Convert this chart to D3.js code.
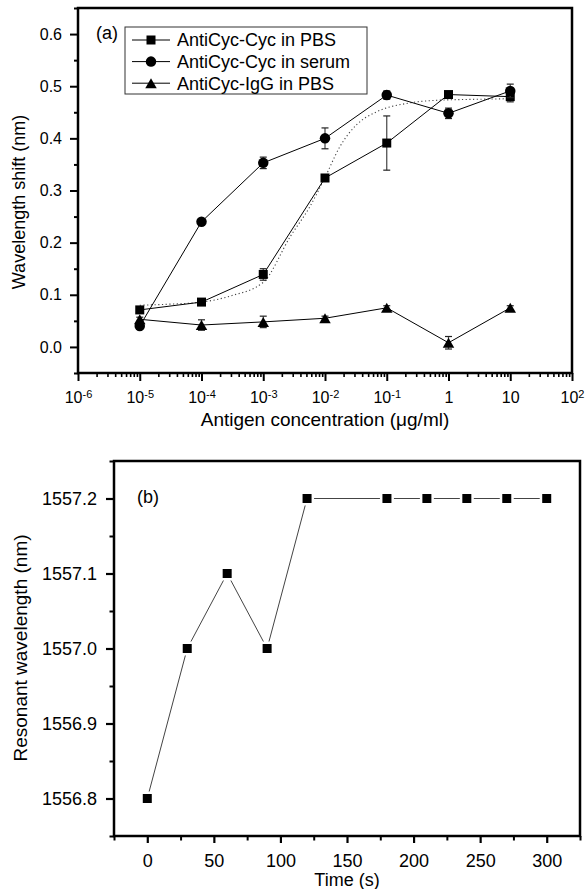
<!DOCTYPE html>
<html>
<head>
<meta charset="utf-8">
<script src="https://cdn.jsdelivr.net/npm/d3@7"></script>
<style>
  body { margin: 0; background: #fff; }
  text { font-family: "Liberation Sans", Arial, sans-serif; fill: #000; }
</style>
</head>
<body>
<svg id="chart" width="585" height="889"></svg>
<script>
// ---- panel (a) data ----
const concentrations = [1e-5, 1e-4, 1e-3, 1e-2, 1e-1, 1, 10];
const pbsShift   = [0.071, 0.086, 0.139, 0.324, 0.391, 0.484, 0.480];
const pbsErr     = [0.006, 0.004, 0.011, 0.005, 0.052, 0.004, 0.010];
const serumShift = [0.040, 0.240, 0.353, 0.400, 0.483, 0.448, 0.491];
const serumErr   = [0.004, 0.004, 0.011, 0.020, 0.008, 0.010, 0.013];
const iggShift   = [0.053, 0.042, 0.048, 0.055, 0.075, 0.008, 0.075];
const iggErr     = [0.004, 0.010, 0.011, 0.004, 0.004, 0.012, 0.004];
// dotted fit curve
const fitConc  = [1e-5, 3e-5, 1e-4, 3e-4, 1e-3, 2.75e-3, 5.75e-3, 1e-2, 1.74e-2, 3.24e-2, 6.9e-2, 0.21, 0.65, 3, 10];
const fitShift = [0.080, 0.082, 0.086, 0.098, 0.124, 0.212, 0.270, 0.325, 0.384, 0.426, 0.451, 0.467, 0.473, 0.475, 0.476];
const legendLabels = ["AntiCyc-Cyc in PBS", "AntiCyc-Cyc in serum", "AntiCyc-IgG in PBS"];
const shiftTicks = [0, 0.1, 0.2, 0.3, 0.4, 0.5, 0.6];
const concTicks = [1e-6, 1e-5, 1e-4, 1e-3, 1e-2, 1e-1, 1, 10, 100];

// ---- panel (b) data ----
const times = [0, 30, 60, 90, 120, 180, 210, 240, 270, 300];
const wavelengths = [1556.8, 1557.0, 1557.1, 1557.0, 1557.2, 1557.2, 1557.2, 1557.2, 1557.2, 1557.2];
const wavelengthTicks = [1556.8, 1556.9, 1557.0, 1557.1, 1557.2];
const timeTicks = [0, 50, 100, 150, 200, 250, 300];

const A = { LEFT: 78, RIGHT: 572, TOP: 8, BOTTOM: 373 };
const B = { LEFT: 114, RIGHT: 580, TOP: 461, BOTTOM: 836 };

const svg = d3.select("#chart");

function square(g, cx, cy, s) {
    g.append("rect").attr("x", cx - s / 2).attr("y", cy - s / 2)
        .attr("width", s).attr("height", s).attr("fill", "#000");
}
function circle(g, cx, cy, s) {
    g.append("circle").attr("cx", cx).attr("cy", cy).attr("r", s / 2).attr("fill", "#000");
}
function triangle(g, cx, cy, s) {
    const w = s * 1.15, h = s;
    g.append("path")
        .attr("d", `M${cx},${cy - h / 2}L${cx + w / 2},${cy + h / 2}L${cx - w / 2},${cy + h / 2}Z`)
        .attr("fill", "#000");
}

function styleTicks(g, width, size) {
    g.select(".domain").remove();
    g.selectAll(".tick line").attr("stroke", "#000").attr("stroke-width", width);
    g.selectAll(".tick text").attr("font-size", size).attr("font-family", "Liberation Sans, Arial, sans-serif");
}

// ================= panel (a) =================
const xA = d3.scaleLog().domain([1e-6, 1e2]).range([A.LEFT, A.RIGHT]);
const yA = d3.scaleLinear().domain([-0.05, 0.65]).range([A.BOTTOM, A.TOP]);
const gA = svg.append("g");

// minor ticks
const minorConc = [];
for (let e = -6; e < 2; e++) for (let k = 2; k <= 9; k++) minorConc.push(k * Math.pow(10, e));
gA.append("g").attr("transform", `translate(0,${A.BOTTOM})`)
    .call(d3.axisBottom(xA).tickValues(minorConc).tickSize(4).tickFormat(""))
    .call(g => styleTicks(g, 1.6, 0));
const xAxisA = gA.append("g").attr("transform", `translate(0,${A.BOTTOM})`)
    .call(d3.axisBottom(xA).tickValues(concTicks).tickSize(8).tickPadding(10.5))
    .call(g => styleTicks(g, 2, 16));
xAxisA.selectAll(".tick text").each(function (d) {
    const t = d3.select(this);
    t.text("");
    if (d === 1 || d === 10) { t.text(String(d)); return; }
    const e = Math.round(Math.log10(d));
    t.append("tspan").text("10");
    t.append("tspan").attr("dy", "-0.45em").attr("font-size", 11).text(String(e));
});

const minorShift = d3.range(-0.05, 0.66, 0.1).map(v => +v.toFixed(2));
gA.append("g").attr("transform", `translate(${A.LEFT},0)`)
    .call(d3.axisLeft(yA).tickValues(minorShift).tickSize(4).tickFormat(""))
    .call(g => styleTicks(g, 2, 0));
gA.append("g").attr("transform", `translate(${A.LEFT},0)`)
    .call(d3.axisLeft(yA).tickValues(shiftTicks).tickSize(8).tickPadding(8).tickFormat(d3.format(".1f")))
    .call(g => styleTicks(g, 2, 16));

// fit curve
gA.append("path")
    .datum(fitConc.map((c, i) => [c, fitShift[i]]))
    .attr("fill", "none").attr("stroke", "#444").attr("stroke-width", 1.1)
    .attr("stroke-dasharray", "1.2,2.5")
    .attr("d", d3.line().x(d => xA(d[0])).y(d => yA(d[1])).curve(d3.curveMonotoneX));

const seriesA = [
    { vals: pbsShift, err: pbsErr, mark: square, size: 9 },
    { vals: serumShift, err: serumErr, mark: circle, size: 10.5 },
    { vals: iggShift, err: iggErr, mark: triangle, size: 10 }
];
const lineA = d3.line().x(d => xA(d[0])).y(d => yA(d[1]));
seriesA.forEach(s => {
    const pts = concentrations.map((c, i) => [c, s.vals[i], s.err[i]]);
    gA.append("path").datum(pts).attr("fill", "none")
        .attr("stroke", "#000").attr("stroke-width", 1).attr("d", lineA);
    pts.forEach(p => {
        const cx = xA(p[0]);
        gA.append("line").attr("x1", cx).attr("x2", cx)
            .attr("y1", yA(p[1] - p[2])).attr("y2", yA(p[1] + p[2]))
            .attr("stroke", "#444").attr("stroke-width", 1.2);
        [p[1] - p[2], p[1] + p[2]].forEach(v => {
            gA.append("line").attr("x1", cx - 3.5).attr("x2", cx + 3.5)
                .attr("y1", yA(v)).attr("y2", yA(v))
                .attr("stroke", "#222").attr("stroke-width", 1.2);
        });
        s.mark(gA, cx, yA(p[1]), s.size);
    });
});

// frame
gA.append("rect").attr("x", A.LEFT).attr("y", A.TOP)
    .attr("width", A.RIGHT - A.LEFT).attr("height", A.BOTTOM - A.TOP)
    .attr("fill", "none").attr("stroke", "#000").attr("stroke-width", 2.5);

// legend
const leg = gA.append("g");
leg.append("rect").attr("x", 125).attr("y", 27).attr("width", 242).attr("height", 67)
    .attr("fill", "#fff").attr("stroke", "#333").attr("stroke-width", 1);
legendLabels.forEach((lab, i) => {
    const cy = 40 + i * 21.6;
    leg.append("line").attr("x1", 132).attr("x2", 170).attr("y1", cy).attr("y2", cy)
        .attr("stroke", "#000").attr("stroke-width", 1);
    seriesA[i].mark(leg, 151, cy, seriesA[i].size);
    leg.append("text").attr("x", 177).attr("y", cy).attr("dy", "0.35em")
        .attr("font-size", 18).text(lab);
});

gA.append("text").attr("x", 96).attr("y", 39).attr("font-size", 18).text("(a)");
gA.append("text").attr("x", (A.LEFT + A.RIGHT) / 2).attr("y", 426)
    .attr("text-anchor", "middle").attr("font-size", 19)
    .text("Antigen concentration (\u03BCg/ml)");
gA.append("text").attr("transform", "rotate(-90)")
    .attr("x", -202).attr("y", 25).attr("text-anchor", "middle").attr("font-size", 18)
    .text("Wavelength shift (nm)");

// ================= panel (b) =================
const xB = d3.scaleLinear().domain([-25, 325]).range([B.LEFT, B.RIGHT]);
const yB = d3.scaleLinear().domain([1556.75, 1557.25]).range([B.BOTTOM, B.TOP]);
const gB = svg.append("g");

gB.append("g").attr("transform", `translate(0,${B.BOTTOM})`)
    .call(d3.axisBottom(xB).tickValues(d3.range(-25, 326, 50)).tickSize(4.5).tickFormat(""))
    .call(g => styleTicks(g, 2, 0));
gB.append("g").attr("transform", `translate(0,${B.BOTTOM})`)
    .call(d3.axisBottom(xB).tickValues(timeTicks).tickSize(7).tickPadding(11))
    .call(g => styleTicks(g, 2.2, 18));
gB.append("g").attr("transform", `translate(${B.LEFT},0)`)
    .call(d3.axisLeft(yB).tickValues([1556.75, 1556.85, 1556.95, 1557.05, 1557.15, 1557.25]).tickSize(4.5).tickFormat(""))
    .call(g => styleTicks(g, 2, 0));
gB.append("g").attr("transform", `translate(${B.LEFT},0)`)
    .call(d3.axisLeft(yB).tickValues(wavelengthTicks).tickSize(8).tickPadding(9).tickFormat(d3.format(".1f")))
    .call(g => styleTicks(g, 2.2, 18));

const ptsB = times.map((t, i) => [t, wavelengths[i]]);
gB.append("path").datum(ptsB).attr("fill", "none")
    .attr("stroke", "#444").attr("stroke-width", 1)
    .attr("d", d3.line().x(d => xB(d[0])).y(d => yB(d[1])));
ptsB.forEach(p => {
    const cx = xB(p[0]), cy = yB(p[1]);
    gB.append("rect").attr("x", cx - 7).attr("y", cy - 7).attr("width", 14).attr("height", 14)
        .attr("fill", "#fff");
    square(gB, cx, cy, 9);
});

gB.append("rect").attr("x", B.LEFT).attr("y", B.TOP)
    .attr("width", B.RIGHT - B.LEFT).attr("height", B.BOTTOM - B.TOP)
    .attr("fill", "none").attr("stroke", "#000").attr("stroke-width", 2.5);

gB.append("text").attr("x", 137).attr("y", 503).attr("font-size", 18).text("(b)");
gB.append("text").attr("x", (B.LEFT + B.RIGHT) / 2).attr("y", 886)
    .attr("text-anchor", "middle").attr("font-size", 18).text("Time (s)");
gB.append("text").attr("transform", "rotate(-90)")
    .attr("x", -648).attr("y", 27).attr("text-anchor", "middle").attr("font-size", 19)
    .text("Resonant wavelength (nm)");
</script>
</body>
</html>
